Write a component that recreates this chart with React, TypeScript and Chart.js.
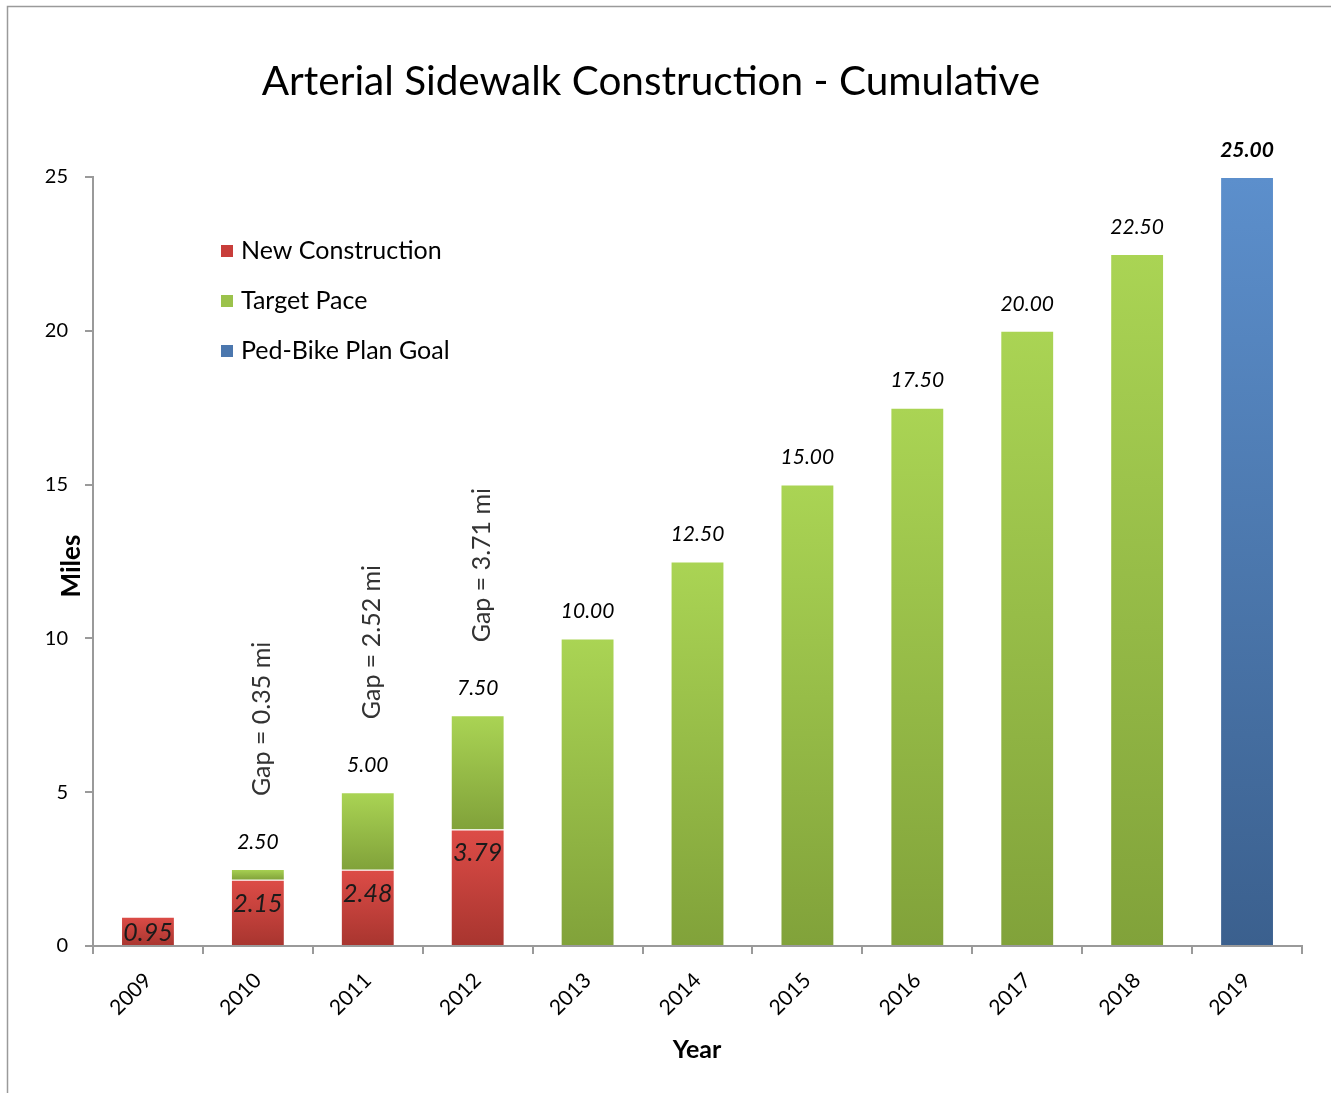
import React, { useEffect, useRef } from "react";
import { Chart, registerables } from "chart.js";

Chart.register(...registerables);

const years = ["2009", "2010", "2011", "2012", "2013", "2014", "2015", "2016", "2017", "2018", "2019"];
const newConstruction: (number | null)[] = [0.95, 2.15, 2.48, 3.79, null, null, null, null, null, null, null];
const targetPace: (number | null)[] = [null, 2.5, 5.0, 7.5, 10.0, 12.5, 15.0, 17.5, 20.0, 22.5, null];
const planGoal: (number | null)[] = [null, null, null, null, null, null, null, null, null, null, 25.0];
const yTicks = [0, 5, 10, 15, 20, 25];

const chartTitle = "Arterial Sidewalk Construction - Cumulative";
const seriesNames = ["New Construction", "Target Pace", "Ped-Bike Plan Goal"];

const FONT = "Lato, 'Open Sans', sans-serif";

// green segment stacked on top of red so that its top reaches the target value
const targetSegment = targetPace.map((t, i) => (t == null ? null : +(t - (newConstruction[i] || 0)).toFixed(2)));

const gradStops = [
  ["#dd4c47", "#a8352f"],
  ["#aad454", "#81a23a"],
  ["#5c8fcc", "#3b608e"],
];
const swatch = ["#c83d3a", "#9bc24b", "#4b77ae"];

export default function App() {
  const ref = useRef<HTMLCanvasElement>(null);
  useEffect(() => {
    document.body.style.margin = "0";
    const canvas = ref.current!;
    const segData = [newConstruction, targetSegment, planGoal];

    const bg = (di: number) => (ctx: any) => {
      const chart = ctx.chart;
      const y = chart.scales?.y;
      const i = ctx.dataIndex;
      if (!y || i == null) return gradStops[di][0];
      let base = 0;
      for (let k = 0; k < di; k++) base += (segData[k][i] as number) || 0;
      const top = base + ((segData[di][i] as number) || 0);
      const y0 = y.getPixelForValue(top);
      const y1 = y.getPixelForValue(base);
      if (!isFinite(y0) || !isFinite(y1) || y0 === y1) return gradStops[di][0];
      const g = chart.ctx.createLinearGradient(0, y0, 0, y1);
      g.addColorStop(0, gradStops[di][0]);
      g.addColorStop(1, gradStops[di][1]);
      return g;
    };

    const overlay = {
      id: "overlay",
      beforeDraw(chart: any) {
        const c = chart.ctx;
        c.save();
        c.fillStyle = "#fff";
        c.fillRect(0, 0, chart.width, chart.height);
        c.strokeStyle = "#9a9a9a";
        c.lineWidth = 1.5;
        c.beginPath();
        c.moveTo(7.5, chart.height);
        c.lineTo(7.5, 6.5);
        c.lineTo(chart.width, 6.5);
        c.stroke();
        c.restore();
      },
      afterDraw(chart: any) {
        const c = chart.ctx;
        const xs = chart.scales.x;
        const ys = chart.scales.y;
        c.save();
        // title
        c.fillStyle = "#000";
        c.textAlign = "center";
        c.textBaseline = "middle";
        c.font = `40.5px ${FONT}`;
        c.fillText(chartTitle, 651, 82);
        // axis titles
        c.font = `bold 25px ${FONT}`;
        c.fillText("Year", 697, 1050);
        c.font = `bold 26px ${FONT}`;
        c.save();
        c.translate(72, 566);
        c.rotate(-Math.PI / 2);
        c.fillText("Miles", 0, 0);
        c.restore();

        // legend
        c.textAlign = "left";
        c.font = `25px ${FONT}`;
        seriesNames.forEach((n, k) => {
          const ly = 251 + k * 50;
          c.fillStyle = swatch[k];
          c.fillRect(221, ly - 6, 12, 12);
          c.fillStyle = "#000";
          c.fillText(n, 241, ly);
        });

        // value labels
        years.forEach((_, i) => {
          const cx = xs.getPixelForValue(i);
          const top = targetPace[i] ?? planGoal[i];
          if (top != null) {
            const py = ys.getPixelForValue(top);
            c.fillStyle = "#000";
            c.textAlign = "center";
            c.font = `${planGoal[i] != null ? "bold " : ""}italic 21px ${FONT}`;
            c.fillText(top.toFixed(2), cx, py - 27);
          }
          const nc = newConstruction[i];
          if (nc != null) {
            const t = ys.getPixelForValue(nc);
            const b = ys.getPixelForValue(0);
            const ly = Math.min(t + 24, (t + b) / 2 + 2);
            c.fillStyle = "#1a1a1a";
            c.textAlign = "center";
            c.font = `italic 25px ${FONT}`;
            c.fillText(nc.toFixed(2), cx, ly);
          }
          if (nc != null && targetPace[i] != null) {
            const gap = (targetPace[i] as number) - nc;
            const py = ys.getPixelForValue(targetPace[i] as number);
            c.save();
            c.translate(cx + 4, py - 73);
            c.rotate(-Math.PI / 2);
            c.textAlign = "left";
            c.fillStyle = "#333";
            c.font = `25px ${FONT}`;
            c.fillText(`Gap = ${gap.toFixed(2)} mi`, 0, 0);
            c.restore();
          }
        });
        c.restore();
      },
    };

    const chart = new Chart(canvas, {
      type: "bar",
      data: {
        labels: years,
        datasets: [
          { label: seriesNames[0], data: newConstruction, backgroundColor: bg(0), borderColor: "#fff", borderWidth: 1, stack: "s" },
          { label: seriesNames[1], data: targetSegment, backgroundColor: bg(1), borderColor: "#fff", borderWidth: 1, stack: "s" },
          { label: seriesNames[2], data: planGoal, backgroundColor: bg(2), borderColor: "#fff", borderWidth: 1, stack: "s" },
        ] as any,
      },
      options: {
        animation: false,
        responsive: false,
        maintainAspectRatio: false,
        layout: { padding: { top: 177, right: 29, left: 0, bottom: 0 } },
        datasets: { bar: { categoryPercentage: 1, barPercentage: 0.49 } },
        plugins: { legend: { display: false }, title: { display: false }, tooltip: { enabled: false } },
        scales: {
          x: {
            stacked: true,
            offset: true,
            grid: { offset: true, drawOnChartArea: false, drawTicks: true, tickLength: 8, color: "#9a9a9a", lineWidth: 2 },
            border: { display: true, color: "#9a9a9a", width: 2 },
            ticks: { maxRotation: 45, minRotation: 45, padding: 14, color: "#000", font: { family: FONT, size: 21 } },
            afterFit(s: any) { s.height = 147; },
          },
          y: {
            stacked: true,
            min: 0,
            max: 25,
            afterBuildTicks(s: any) { s.ticks = yTicks.map((v) => ({ value: v })); },
            grid: { drawOnChartArea: false, drawTicks: true, tickLength: 8, color: "#9a9a9a", lineWidth: 2 },
            border: { display: true, color: "#9a9a9a", width: 2 },
            ticks: { padding: 17, color: "#000", font: { family: FONT, size: 20 } },
            afterFit(s: any) { s.width = 93; },
          },
        },
      } as any,
      plugins: [overlay],
    });
    return () => chart.destroy();
  }, []);
  return <canvas ref={ref} width={1331} height={1093} style={{ display: "block", width: 1331, height: 1093 }} />;
}
